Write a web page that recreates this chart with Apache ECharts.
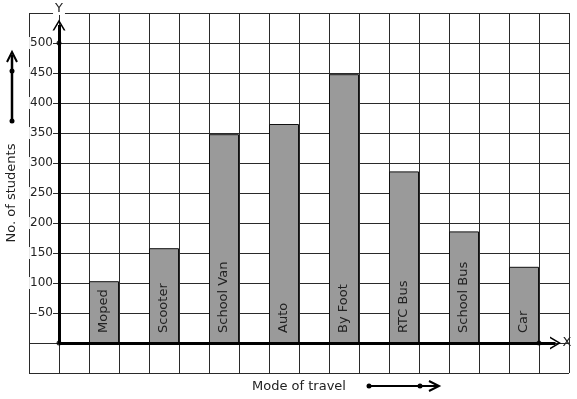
<!DOCTYPE html>
<html>
<head>
<meta charset="utf-8">
<script src="https://cdn.jsdelivr.net/npm/echarts@6/dist/echarts.min.js"></script>
<style>html,body{margin:0;padding:0;background:#fff;}#c{width:577px;height:399px;}</style>
</head>
<body>
<div id="c"></div>
<script>
// Data
var categories = ['Moped', 'Scooter', 'School Van', 'Auto', 'By Foot', 'RTC Bus', 'School Bus', 'Car'];
var students = [103, 158, 348, 365, 448, 286, 186, 127];
var barPositions = [1.5, 3.5, 5.5, 7.5, 9.5, 11.5, 13.5, 15.5];
var yTickLabels = ['50', '100', '150', '200', '250', '300', '350', '400', '450', '500'];

var chart = echarts.init(document.getElementById('c'), null, {renderer: 'canvas'});
var font = 'DejaVu Sans';
var chevron = 'path://M0,12 L6,0 L12,12 L10.4,12 L6,3.2 L1.6,12 Z';

var barData = categories.map(function (c, i) {
  return {name: c, value: [barPositions[i], students[i]]};
});

var option = {
  animation: false,
  backgroundColor: '#fff',
  textStyle: {fontFamily: font},
  grid: {left: 29, right: 8, top: 13, bottom: 26, show: false, containLabel: false, outerBoundsMode: 'none'},
  xAxis: {
    type: 'value', min: -1, max: 17, interval: 1,
    axisLine: {show: false, onZero: false},
    axisTick: {show: false},
    axisLabel: {show: false},
    splitLine: {show: true, lineStyle: {color: '#2a2a2a', width: 1}},
    name: 'Mode of travel', nameLocation: 'middle', nameGap: 7,
    nameTextStyle: {fontFamily: font, fontSize: 13, color: '#222'}
  },
  yAxis: {
    type: 'value', min: -50, max: 550, interval: 50,
    axisLine: {show: false, onZero: false},
    axisTick: {show: false},
    splitLine: {show: true, lineStyle: {color: '#2a2a2a', width: 1}},
    axisLabel: {
      inside: true, margin: 24, align: 'right',
      fontFamily: font, fontSize: 12, color: '#222',
      backgroundColor: '#fff', padding: [0, 0, 0, 1],
      formatter: function (v) {
        var s = String(v);
        return yTickLabels.indexOf(s) >= 0 ? s : '';
      }
    },
    name: 'No. of students', nameLocation: 'middle', nameGap: 11, nameRotate: 90,
    nameTextStyle: {fontFamily: font, fontSize: 13, color: '#222'}
  },
  series: [
    {
      type: 'bar',
      data: barData,
      barWidth: 30,
      itemStyle: {color: '#9a9a9a', borderColor: '#111', borderWidth: 1},
      label: {
        show: true, position: 'insideBottom', rotate: 90, distance: 10,
        align: 'left', verticalAlign: 'middle',
        fontFamily: font, fontSize: 13, color: '#222',
        formatter: function (p) { return p.name; }
      },
      markLine: {
        silent: true,
        symbol: ['none', chevron],
        symbolSize: [13, 11],
        lineStyle: {color: '#000', width: 3, type: 'solid'},
        label: {show: false},
        data: [
          [{coord: [0, 0]}, {coord: [16.55, 0],
            label: {show: true, position: 'end', formatter: 'X', distance: 7,
              fontFamily: font, fontSize: 13, color: '#222'}}],
          [{coord: [0, 0]}, {coord: [0, 530],
            label: {show: true, position: 'end', formatter: 'Y', distance: 10,
              fontFamily: font, fontSize: 13, color: '#222', backgroundColor: '#fff', padding: [0, 2]}}]
        ]
      }
    },
    {
      type: 'scatter',
      silent: true,
      symbolSize: 5,
      itemStyle: {color: '#000'},
      data: [[0, 0], [16, 0], [0, 500]]
    }
  ],
  graphic: [
    {type: 'line', shape: {x1: 12, y1: 121, x2: 12, y2: 55}, style: {stroke: '#000', lineWidth: 2.5}},
    {type: 'polyline', shape: {points: [[7, 62], [12, 52], [17, 62]]}, style: {stroke: '#000', lineWidth: 2, fill: null}},
    {type: 'circle', shape: {cx: 12, cy: 121, r: 2.5}, style: {fill: '#000'}},
    {type: 'circle', shape: {cx: 12, cy: 71, r: 2.5}, style: {fill: '#000'}},
    {type: 'line', shape: {x1: 369, y1: 386, x2: 437, y2: 386}, style: {stroke: '#000', lineWidth: 2}},
    {type: 'polyline', shape: {points: [[429, 381], [439, 386], [429, 391]]}, style: {stroke: '#000', lineWidth: 2, fill: null}},
    {type: 'circle', shape: {cx: 369, cy: 386, r: 2.5}, style: {fill: '#000'}},
    {type: 'circle', shape: {cx: 420, cy: 386, r: 2.5}, style: {fill: '#000'}}
  ]
};
chart.setOption(option);
</script>
</body>
</html>
